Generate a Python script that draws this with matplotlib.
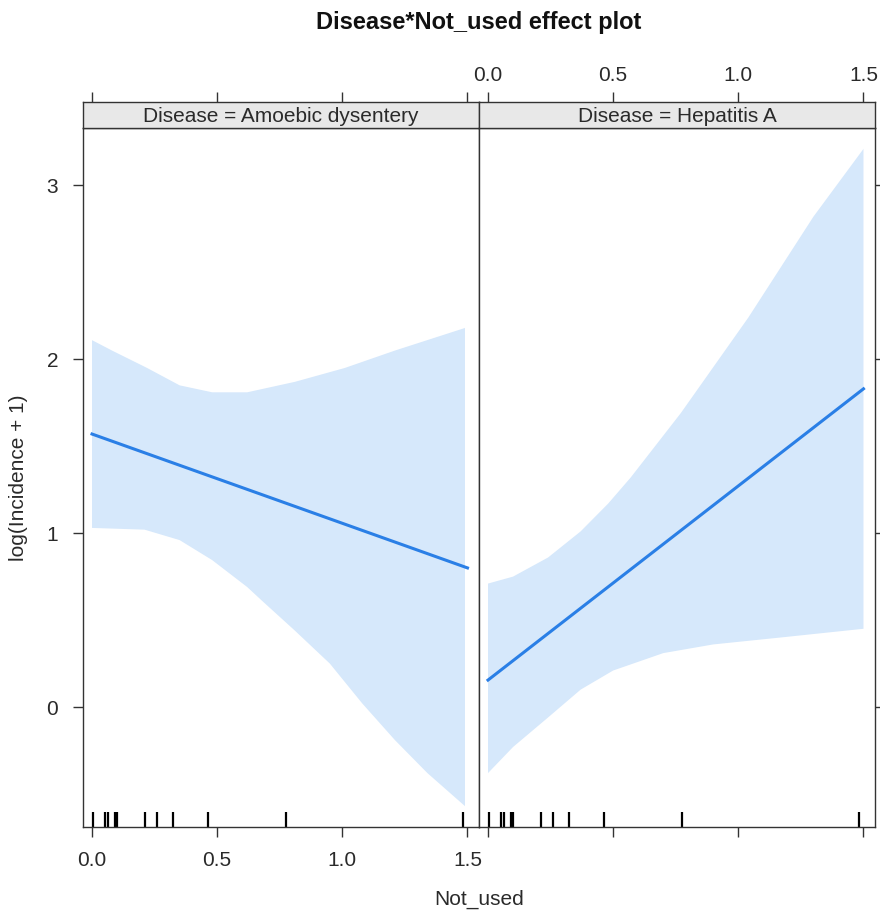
import matplotlib.pyplot as plt

plt.rcParams["font.family"] = ["Liberation Sans", "DejaVu Sans"]

# Panels
panels = ["Amoebic dysentery", "Hepatitis A"]

# Fitted line end points (Not_used, log(Incidence + 1))
line_x = [0.0, 1.5]
amoebic_fit = [1.57, 0.80]
hepatitis_fit = [0.155, 1.83]

# Confidence bands
amoebic_upper_x = [0.0, 0.08, 0.22, 0.35, 0.48, 0.62, 0.81, 1.01, 1.21, 1.49]
amoebic_upper = [2.11, 2.05, 1.95, 1.85, 1.81, 1.81, 1.87, 1.95, 2.05, 2.18]
amoebic_lower_x = [0.0, 0.21, 0.35, 0.48, 0.62, 0.68, 0.81, 0.95, 1.08, 1.21, 1.34, 1.49]
amoebic_lower = [1.03, 1.02, 0.96, 0.845, 0.69, 0.61, 0.44, 0.25, 0.02, -0.19, -0.38, -0.57]

hepatitis_upper_x = [0.0, 0.10, 0.24, 0.37, 0.48, 0.57, 0.77, 1.04, 1.30, 1.50]
hepatitis_upper = [0.71, 0.75, 0.86, 1.01, 1.17, 1.32, 1.69, 2.24, 2.82, 3.21]
hepatitis_lower_x = [0.0, 0.10, 0.24, 0.37, 0.50, 0.70, 0.90, 1.17, 1.50]
hepatitis_lower = [-0.38, -0.23, -0.06, 0.10, 0.21, 0.31, 0.36, 0.40, 0.45]

# Observed Not_used values (rug)
rug_x = [0.005, 0.05, 0.065, 0.09, 0.10, 0.213, 0.26, 0.322, 0.464, 0.773, 1.482]

xticks = [0.0, 0.5, 1.0, 1.5]
xticklabels = ["0.0", "0.5", "1.0", "1.5"]
yticks = [0, 1, 2, 3]

fits = [amoebic_fit, hepatitis_fit]
bands = [
    (amoebic_upper_x, amoebic_upper, amoebic_lower_x, amoebic_lower),
    (hepatitis_upper_x, hepatitis_upper, hepatitis_lower_x, hepatitis_lower),
]

line_col = "#2a7fe6"
band_col = "#d6e8fb"
txt_col = "#2a2a2a"
fs = 15

W, H = 880, 910
fig = plt.figure(figsize=(W / 100, H / 100), dpi=100)

left0 = 83 / W
pw = 396 / W
bottom = 1 - 827 / H
ph = (827 - 128) / H
sh = 26 / H

xlim = (-0.036, 1.546)
ylim = (-0.69, 3.33)

for i, name in enumerate(panels):
    ax = fig.add_axes([left0 + i * pw, bottom, pw, ph])
    ux, uy, lx, ly = bands[i]
    # closed polygon: upper edge left to right, lower edge back
    ax.fill(ux + lx[::-1], uy + ly[::-1], color=band_col, lw=0)
    ax.plot(line_x, fits[i], color=line_col, lw=2.2)
    ax.vlines(rug_x, 0, 0.021, transform=ax.get_xaxis_transform(),
              color="black", lw=1.6)
    ax.set_xlim(xlim)
    ax.set_ylim(ylim)
    ax.set_xticks(xticks)
    ax.set_yticks(yticks)
    ax.tick_params(direction="out", length=7, width=1, color="#333333",
                   labelsize=fs, labelcolor=txt_col, top=False)
    if i == 0:
        ax.tick_params(axis="y", left=True, right=False, labelleft=True, pad=11)
        ax.tick_params(axis="x", bottom=True, labelbottom=True, pad=10)
        ax.set_xticklabels(xticklabels)
    else:
        ax.tick_params(axis="y", left=False, right=True, labelleft=False,
                       labelright=False)
        ax.tick_params(axis="x", bottom=True, labelbottom=False)
    for s in ax.spines.values():
        s.set_color("#333333")
        s.set_linewidth(1)

    # strip on top
    st = fig.add_axes([left0 + i * pw, bottom + ph, pw, sh])
    st.set_facecolor("#e8e8e8")
    st.set_xlim(xlim)
    st.set_xticks(xticks)
    st.set_yticks([])
    st.tick_params(axis="x", direction="out", length=7, width=1, color="#333333",
                   bottom=False, labelbottom=False, top=True,
                   labeltop=(i == 1), labelsize=fs, labelcolor=txt_col, pad=5)
    if i == 1:
        st.set_xticklabels(xticklabels)
    for s in st.spines.values():
        s.set_color("#333333")
        s.set_linewidth(1)
    st.text(0.5, 0.45, "Disease = " + name, transform=st.transAxes,
            ha="center", va="center", fontsize=fs, color=txt_col)

fig.text(19 / W, 1 - 478 / H, "log(Incidence + 1)", rotation=90, ha="center",
         va="center", fontsize=fs, color=txt_col)
fig.text(left0 + pw, 1 - 899 / H, "Not_used", ha="center", va="center",
         fontsize=fs, color=txt_col)
fig.text(left0 + pw, 1 - 23 / H, "Disease*Not_used effect plot", ha="center",
         va="center", fontsize=17, fontweight="bold", color="#111111")

fig.savefig("out.png", dpi=100)
